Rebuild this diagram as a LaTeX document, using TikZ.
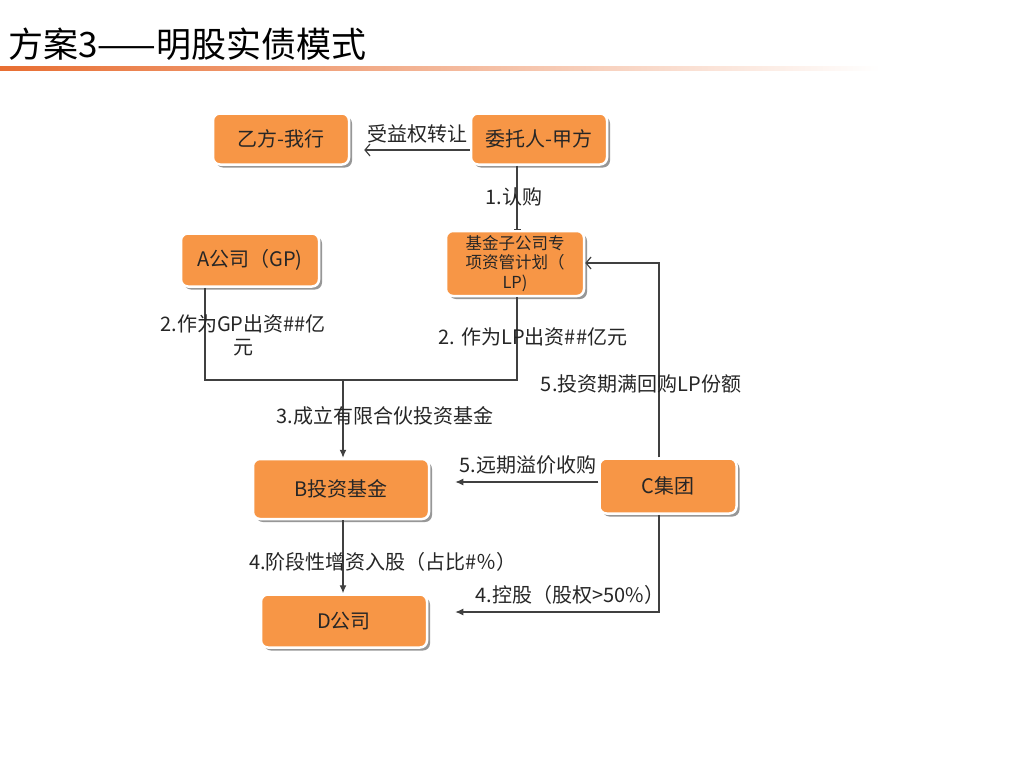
\documentclass[tikz,border=0pt]{standalone}
\usepackage{fontspec}
\setmainfont{Noto Sans CJK SC}
\usetikzlibrary{arrows.meta,shadows}
\definecolor{boxorange}{HTML}{F79646}
\definecolor{titleor}{RGB}{232,110,50}
\definecolor{linec}{HTML}{404040}
\begin{document}
\begin{tikzpicture}[x=1pt,y=-1pt,
  box/.style={draw=white,line width=2.5pt,fill=boxorange,rounded corners=7pt,
    drop shadow={shadow xshift=3pt,shadow yshift=-3pt,fill=black!45,opacity=0.9},
    font=\fontsize{20}{22}\selectfont,text=black!85,inner sep=2pt,align=center},
  conn/.style={draw=linec,line width=1.2pt},
  filled/.style={conn,-{Latex[length=8pt,width=7pt]}},
  openarr/.style={conn,-{Straight Barb[length=5pt,width=12pt]}},
  lbl/.style={font=\fontsize{20}{22}\selectfont,text=black!85,inner sep=1pt,align=center}]
\useasboundingbox[fill=white] (0,0) rectangle (1024,768);
% title
\node[anchor=west,font=\fontsize{35}{38}\selectfont,inner sep=0pt] (title) at (8,44) {方案3——明股实债模式};
\shade[left color=titleor,right color=white,draw=none] (0,66) rectangle (880,70);
% boxes
\node[box,minimum width=136pt,minimum height=51pt] (yf) at (281,139) {乙方-我行};
\node[box,minimum width=136pt,minimum height=51pt] (wt) at (539,139) {委托人-甲方};
\node[box,minimum width=138pt,minimum height=53pt] (a) at (250,260) {A公司（GP)};
\node[box,minimum width=138pt,minimum height=65pt,inner sep=0pt,font=\fontsize{16.5}{19.5}\selectfont,text width=130pt] (lp) at (515,263.5) {基金子公司专\\项资管计划（\\LP)};
\node[box,minimum width=176pt,minimum height=60pt] (b) at (341,489) {B投资基金};
\node[box,minimum width=137pt,minimum height=55pt] (c) at (668,486) {C集团};
\node[box,minimum width=166pt,minimum height=53pt] (d) at (344,621) {D公司};
% coordinates
\coordinate (ja) at (205,380);
\coordinate (jl) at (517,380);
\coordinate (jm) at (343,380);
\coordinate (cu) at (659,263);
\coordinate (cd) at (659,612);
% connectors
\draw[openarr,shorten >=14pt] ([yshift=-11pt]wt.west) -- ([yshift=-11pt]yf.east);
\draw[conn,-{Bar[width=7pt]}] (wt.south -| jl) -- (lp.north -| jl);
\draw[conn] (a.south -| ja) -- (ja) -- (jl) -- (lp.south -| jl);
\draw[filled] (jm) -- (b.north -| jm);
\draw[openarr] (c.north -| cu) -- (cu) -- (lp.east |- cu);
\draw[filled,shorten >=25pt] ([yshift=4pt]c.west) -- ([yshift=4pt]c.west -| b.east);
\draw[filled] (b.south -| jm) -- (d.north -| jm);
\draw[filled,shorten >=27pt] (c.south -| cd) -- (cd) -- (d.east |- cd);
% labels
\node[lbl] (l1) at (417,134) {受益权转让};
\node[lbl] (l2) at (514,197) {1.认购};
\node[lbl,font=\fontsize{20}{23}\selectfont] (l3) at (243,335) {2.作为GP出资\#\#亿\\元};
\node[lbl] (l4) at (533,337) {2. 作为LP出资\#\#亿元};
\node[lbl] (l5) at (641,384) {5.投资期满回购LP份额};
\node[lbl] (l6) at (385,416) {3.成立有限合伙投资基金};
\node[lbl] (l7) at (528,465) {5.远期溢价收购};
\node[lbl] (l8) at (383,562) {4.阶段性增资入股（占比\#％）};
\node[lbl] (l9) at (570,595) {4.控股（股权>50\%）};
\end{tikzpicture}
\end{document}
